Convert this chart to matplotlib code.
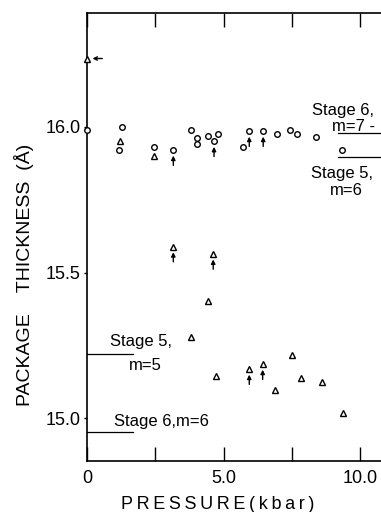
import matplotlib
matplotlib.use("Agg")
import matplotlib.pyplot as plt

plt.rcParams['font.family'] = ['Liberation Sans', 'DejaVu Sans']

# open circles (kbar, Angstrom)
circ_p = [0.0, 1.27, 1.18, 2.45, 3.16, 3.81, 4.04, 4.04, 4.43, 4.65, 4.79,
          5.70, 5.94, 6.45, 6.94, 7.43, 7.70, 8.40, 9.34]
circ_t = [15.99, 16.00, 15.92, 15.93, 15.92, 15.99, 15.96, 15.94, 15.97, 15.95, 15.975,
          15.93, 15.985, 15.985, 15.974, 15.99, 15.975, 15.966, 15.92]
circ_arrow = [False, False, False, False, True, False, False, False, False, True, False,
              False, True, True, False, False, False, False, False]

# open triangles
tri_p = [0.0, 1.21, 2.45, 3.16, 4.62, 4.44, 3.79, 4.74, 5.94, 6.43, 6.89,
         7.49, 7.85, 8.61, 9.37]
tri_t = [16.234, 15.95, 15.90, 15.589, 15.564, 15.403, 15.279, 15.146, 15.169, 15.186, 15.098,
         15.218, 15.139, 15.125, 15.018]
tri_arrow = [False, False, False, True, True, False, False, False, True, True, False,
             False, False, False, False]

# calculated levels
left_levels = [15.222, 14.952]     # Stage 5 m=5, Stage 6 m=6
right_levels = [15.978, 15.895]    # Stage 6 m=7, Stage 5 m=6

fig = plt.figure(figsize=(3.81, 5.12), dpi=100)
ax = fig.add_axes([0.2283, 0.1002, 0.7795, 0.8744])

ax.plot(circ_p, circ_t, 'o', ms=4, mfc='white', mec='black', mew=1.0, clip_on=False, zorder=3)
ax.plot(tri_p, tri_t, '^', ms=4.5, mfc='white', mec='black', mew=1.0, clip_on=False, zorder=3)

for p, t, a in zip(circ_p + tri_p, circ_t + tri_t, circ_arrow + tri_arrow):
    if a:
        ax.annotate('', xy=(p, t), xytext=(0, -11), textcoords='offset points',
                    arrowprops=dict(arrowstyle='-|>', lw=1.0, color='black',
                                    mutation_scale=6, shrinkA=0, shrinkB=4))
# arrow pointing at the first triangle on the axis
ax.annotate('', xy=(tri_p[0], tri_t[0]), xytext=(11, 0), textcoords='offset points',
            arrowprops=dict(arrowstyle='->', lw=1.0, color='black',
                            mutation_scale=6, shrinkA=0, shrinkB=4))

for lv in left_levels:
    ax.plot([0, 1.67], [lv, lv], color='black', lw=0.9)
for lv in right_levels:
    ax.plot([9.18, 11.5], [lv, lv], color='black', lw=0.9)

fs = 12
ax.text(0.84, 15.262, 'Stage 5,', fontsize=fs, va='center')
ax.text(1.55, 15.18, 'm=5', fontsize=fs, va='center')
ax.text(0.99, 14.99, 'Stage 6,m=6', fontsize=fs, va='center')
ax.text(8.22, 16.055, 'Stage 6,', fontsize=fs, va='center')
ax.text(8.95, 16.0, 'm=7 -', fontsize=fs, va='center')
ax.text(8.19, 15.84, 'Stage 5,', fontsize=fs, va='center')
ax.text(8.89, 15.783, 'm=6', fontsize=fs, va='center')

ax.set_xlim(0, 10.87)
ax.set_ylim(14.855, 16.39)
ax.set_xticks([0, 2.5, 5, 7.5, 10])
ax.set_xticklabels(['0', '', '5.0', '', '10.0'])
ax.set_yticks([15.0, 15.5, 16.0])
ax.set_yticklabels(['15.0', '15.5', '16.0'])
ax.tick_params(axis='x', direction='in', length=10, width=1.0, top=True,
               labelsize=13, pad=7)
ax.tick_params(axis='y', direction='out', length=2.5, width=1.0, labelsize=13, pad=2)
ax.tick_params(axis='y', which='major', right=True)
for sp in ax.spines.values():
    sp.set_linewidth(1.2)

ax.set_xlabel('P\u2009R\u2009E\u2009S\u2009S\u2009U\u2009R\u2009E\u2009(\u2009k\u2009b\u2009a\u2009r\u2009)',
              fontsize=13)
ax.set_ylabel('PACKAGE    THICKNESS  (Å)', fontsize=14)
ax.xaxis.set_label_coords(0.441, -0.078)
ax.yaxis.set_label_coords(-0.178, 0.415)

fig.savefig('out.png', dpi=100)
